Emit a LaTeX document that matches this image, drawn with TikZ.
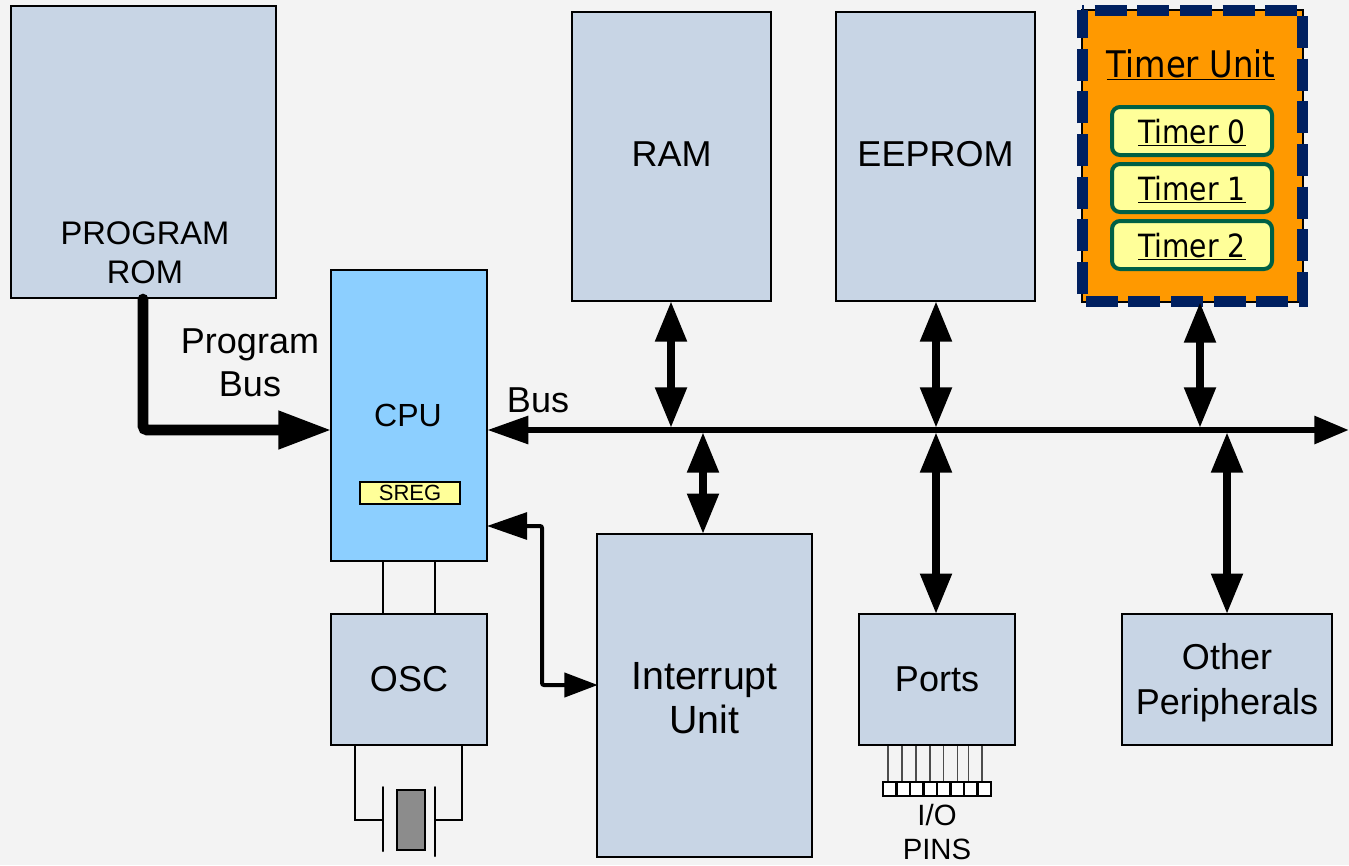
\documentclass[tikz,border=0pt]{standalone}
\usepackage{fontspec}
\usetikzlibrary{arrows.meta}
\setmainfont{Liberation Sans}
\newfontfamily\tahoma[FakeStretch=0.88]{DejaVu Sans}
\definecolor{pagegray}{HTML}{F3F3F3}
\definecolor{unitblue}{HTML}{C8D5E5}
\definecolor{cpublue}{HTML}{8CCFFF}
\definecolor{regyellow}{HTML}{FFFF99}
\definecolor{timerorange}{HTML}{FF9900}
\definecolor{framenavy}{HTML}{002060}
\definecolor{timergreen}{HTML}{006045}
\begin{document}
\begin{tikzpicture}[
        x=0.75pt,
        y=-0.75pt,
        unit/.style={draw, line width=1.5pt, fill=unitblue, inner sep=0pt, align=center, font=\fontsize{27}{33}\selectfont},
        label/.style={inner sep=0pt, align=center, font=\fontsize{27}{32.5}\selectfont},
        timer/.style={draw=timergreen, line width=3pt, fill=regyellow, rounded corners=6pt, inner sep=0pt, minimum width=120pt, minimum height=36pt, text height=20pt, text depth=2pt, font=\tahoma\fontsize{24}{28}\selectfont},
        pin/.style={draw, line width=1.5pt, fill=white, inner sep=0pt, minimum width=10.1pt, minimum height=10.5pt},
        thin bus/.style={line width=3pt, shorten <=-0.75pt, shorten >=-1.2pt, {Triangle[length=30pt,width=20pt]}-{Triangle[length=25pt,width=18pt]}, rounded corners=1.5pt},
        main bus/.style={line width=5.2pt, shorten <=-0.75pt, {Triangle[length=31pt,width=20pt]}-{Triangle[length=26pt,width=20pt]}},
        both bus/.style={line width=6.2pt, shorten <=-0.75pt, shorten >=-0.75pt, {Triangle[length=30.5pt,width=22.5pt]}-{Triangle[length=30.5pt,width=22.5pt]}},
        prog bus/.style={line width=8pt, line cap=round, rounded corners=3pt, shorten >=-1.2pt, -{Triangle[length=40pt,width=27pt]}},
        wire/.style={line width=1.5pt}
      ]
      \useasboundingbox (0,0) rectangle (1349,865);
      \fill[pagegray] (0,0) rectangle (1349,865);

      \node[unit, minimum width=198.5pt, minimum height=219pt] (rom) at (143.5,152) {};
      \node[label, font=\fontsize{24.5}{29}\selectfont] (romtext) at (145,253) {PROGRAM\\ROM};
      \node[unit, minimum width=149pt, minimum height=216.75pt, text depth=3.75pt] (ram) at (671.5,156.5) {RAM};
      \node[unit, minimum width=149pt, minimum height=216.75pt, text depth=3.75pt] (eeprom) at (935.5,156.5) {EEPROM};

      \node[draw=black, line width=1.5pt, fill=timerorange, minimum width=165.75pt, minimum height=219pt, inner sep=0pt] (timerunit) at (1192.5,156) {};
      \coordinate (framenw) at (1082,10);
      \coordinate (framene) at (1302,10);
      \coordinate (framese) at (1302,301);
      \coordinate (framesw) at (1082,301);
      \draw[framenavy, line width=8.25pt, dash pattern=on 24pt off 8pt, dash phase=22.5pt] (framenw) -- (framene) -- (framese) -- (framesw) -- cycle;
      \node[inner sep=0pt, font=\tahoma\fontsize{27.5}{32}\selectfont] (timertitle) at (1191,65) {\underline{Timer Unit}};
      \node[timer] (timer0) at (1192,131) {\underline{Timer 0}};
      \node[timer] (timer1) at (1192,188) {\underline{Timer 1}};
      \node[timer] (timer2) at (1192,245) {\underline{Timer 2}};

      \node[unit, fill=cpublue, minimum width=117pt, minimum height=218pt] (cpu) at (409,415.5) {};
      \node[label, font=\fontsize{24}{30}\selectfont] (cputext) at (408,415) {CPU};
      \node[draw, line width=1.5pt, fill=regyellow, minimum width=75pt, minimum height=16pt, inner sep=0pt, font=\fontsize{16.5}{19}\selectfont] (sreg) at (410,493) {SREG};
      \node[unit, minimum width=117pt, minimum height=98pt] (osc) at (409,679.5) {OSC};
      \node[unit, minimum width=161pt, minimum height=242pt] (interrupt) at (704.5,695.5) {};
      \node[label, font=\fontsize{29.5}{32.5}\selectfont] (inttext) at (704.5,698) {Interrupt\\Unit};
      \node[unit, minimum width=117pt, minimum height=98pt] (ports) at (937,679.5) {Ports};
      \node[unit, minimum width=157pt, minimum height=98pt] (other) at (1227,679.5) {};
      \node[label, font=\fontsize{27}{33.5}\selectfont] (othertext) at (1227,683) {Other\\Peripherals};

      \node[label] (progbus) at (250,363) {Program\\Bus};
      \node[label] (bustext) at (538,400) {Bus};
      \node[label, font=\fontsize{22}{25.5}\selectfont] (pintext) at (937,832) {I/O\\PINS};

      \coordinate (busend) at (1349,430);
      \coordinate (busram) at (671,427);
      \coordinate (buseeprom) at (936,427);
      \coordinate (bustimer) at (1200,427);
      \coordinate (busint) at (703,433);
      \coordinate (busports) at (936,433);
      \coordinate (busother) at (1227,433);
      \coordinate (buscpu) at (cpu.east |- busend);
      \coordinate (intbend) at (542,526);

      \draw[prog bus] (rom.south -| 143,0) |- (buscpu -| cpu.west);
      \draw[main bus] (buscpu) -- (busend);
      \draw[both bus] (ram.south -| busram) -- (busram);
      \draw[both bus] (eeprom.south -| buseeprom) -- (buseeprom);
      \draw[both bus] (timerunit.south -| bustimer) -- (bustimer);
      \draw[both bus] (busint) -- (interrupt.north -| busint);
      \draw[both bus] (busports) -- (ports.north -| busports);
      \draw[both bus] (busother) -- (other.north -| busother);
      \draw[thin bus] (cpu.east |- intbend) -- (intbend) |- (interrupt.west |- 0,685);

      \draw[wire] (cpu.south -| 383,0) -- (osc.north -| 383,0);
      \draw[wire] (cpu.south -| 435,0) -- (osc.north -| 435,0);

      \coordinate (plateleft) at (382.5,820);
      \coordinate (plateright) at (435,820);
      \draw[wire] (osc.south -| 355,0) |- (plateleft);
      \draw[wire] (osc.south -| 462,0) |- (plateright);
      \draw[wire, line cap=round] (382.5,787) -- (382.5,851);
      \draw[wire, line cap=round] (435,787) -- (435,856);
      \node[draw, line width=1.5pt, fill=black!45, minimum width=21pt, minimum height=45pt, inner sep=0pt] (crystal) at (411,820) {};

      \foreach \i/\lx in {1/888,2/902,3/916,4/930,5/943.5,6/957.5,7/968.5,8/982} {
        \node[pin] (pin\i) at (889.75+13.5*\i-13.5,789) {};
        \draw[black!70, line width=0.8pt] (pin\i.north -| \lx,0) -- (ports.south -| \lx,0);
      }
    \end{tikzpicture}
\end{document}
